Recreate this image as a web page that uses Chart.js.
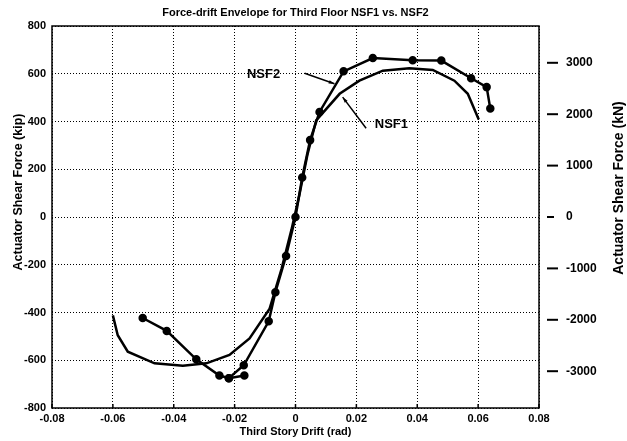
<!DOCTYPE html>
<html>
<head>
<meta charset="utf-8">
<script src="https://cdn.jsdelivr.net/npm/chart.js@4.4.1/dist/chart.umd.min.js"></script>
<style>
  body { margin: 0; background: #fff; }
  #wrap { width: 627px; height: 441px; }
</style>
</head>
<body>
<div id="wrap"><canvas id="chart" width="627" height="441"></canvas></div>
<script>
// values
const driftTicks = [-0.08, -0.06, -0.04, -0.02, 0, 0.02, 0.04, 0.06, 0.08];
const kipTicks = [-800, -600, -400, -200, 0, 200, 400, 600, 800];
const kNTicks = [-3000, -2000, -1000, 0, 1000, 2000, 3000];

const nsf1Drift = [-0.0600, -0.0584, -0.0551, -0.0463, -0.0370, -0.0293, -0.0217, -0.0151, -0.0085, -0.0046, -0.0013,
  0.0013, 0.0039, 0.0068, 0.0145, 0.0210, 0.0287, 0.0374, 0.0451, 0.0522, 0.0566, 0.0602];
const nsf1Force = [-412, -495, -564, -613, -623, -613, -578, -509, -384, -218, -52,
  94, 260, 405, 516, 571, 613, 623, 616, 571, 516, 408];

const nsf2Drift = [-0.0502, -0.0423, -0.0326, -0.0250, -0.0219, -0.0170, -0.0088, -0.0066, -0.0031, 0,
  0.0022, 0.0048, 0.0079, 0.0158, 0.0254, 0.0385, 0.0479, 0.0577, 0.0628, 0.0640];
const nsf2Force = [-423, -477, -596, -664, -675, -621, -437, -315, -163, 0,
  165, 322, 440, 610, 666, 657, 655, 581, 544, 454];
const nsf2TailDrift = [-0.0219, -0.0168];
const nsf2TailForce = [-675, -664];

const kNPerKip = 4.645;

const toPoints = (xs, ys) => xs.map((x, i) => ({ x: x, y: ys[i] }));

const FONT = '"Liberation Sans Narrow", "Liberation Sans", Arial, sans-serif';

const frame = {
  id: 'frame',
  afterDraw(chart) {
    const { ctx, chartArea: a, scales } = chart;
    const dpr = chart.currentDevicePixelRatio;
    ctx.save();
    ctx.strokeStyle = '#000';
    ctx.lineWidth = 1.5;
    ctx.strokeRect(a.left, a.top, a.right - a.left, a.bottom - a.top);

    // short inward ticks along the bottom
    scales.x.ticks.forEach(t => {
      const px = scales.x.getPixelForValue(t.value);
      ctx.beginPath();
      ctx.moveTo(px, a.bottom);
      ctx.lineTo(px, a.bottom - 4);
      ctx.stroke();
    });

    // detached dashes of the kN axis
    const y2 = scales.y2;
    ctx.lineWidth = 2;
    y2.ticks.forEach(t => {
      const py = y2.getPixelForValue(t.value);
      ctx.beginPath();
      ctx.moveTo(a.right + 8, py);
      ctx.lineTo(a.right + (t.value === 0 ? 15 : 19), py);
      ctx.stroke();
    });

    // vertical axis titles
    ctx.fillStyle = '#000';
    ctx.textAlign = 'center';
    ctx.textBaseline = 'middle';
    ctx.font = 'bold 12.5px ' + FONT;
    ctx.translate(19, 192);
    ctx.rotate(-Math.PI / 2);
    ctx.fillText('Actuator Shear Force (kip)', 0, 0);
    ctx.setTransform(dpr, 0, 0, dpr, 0, 0);
    ctx.font = 'bold 14px ' + FONT;
    ctx.translate(619, 188);
    ctx.rotate(-Math.PI / 2);
    ctx.fillText('Actuator Shear Force (kN)', 0, 0);
    ctx.setTransform(dpr, 0, 0, dpr, 0, 0);

    // chart title, centred over the plot
    ctx.font = 'bold 11px ' + FONT;
    ctx.fillText('Force-drift Envelope for Third Floor NSF1 vs. NSF2', (a.left + a.right) / 2, 13);

    // curve labels with pointers
    const x = scales.x, y = scales.y;
    const notes = [
      { text: 'NSF2', tx: -0.0105, ty: 598, from: [0.0030, 602], to: [0.0128, 558] },
      { text: 'NSF1', tx: 0.0315, ty: 389, from: [0.0232, 372], to: [0.0155, 502] }
    ];
    notes.forEach(n => {
      ctx.font = 'bold 13px ' + FONT;
      ctx.fillText(n.text, x.getPixelForValue(n.tx), y.getPixelForValue(n.ty));
      const x1 = x.getPixelForValue(n.from[0]), y1 = y.getPixelForValue(n.from[1]);
      const x2 = x.getPixelForValue(n.to[0]), y2p = y.getPixelForValue(n.to[1]);
      ctx.lineWidth = 1.5;
      ctx.beginPath();
      ctx.moveTo(x1, y1);
      ctx.lineTo(x2, y2p);
      ctx.stroke();
      const ang = Math.atan2(y2p - y1, x2 - x1);
      ctx.beginPath();
      ctx.moveTo(x2, y2p);
      ctx.lineTo(x2 - 6 * Math.cos(ang - 0.3), y2p - 6 * Math.sin(ang - 0.3));
      ctx.lineTo(x2 - 6 * Math.cos(ang + 0.3), y2p - 6 * Math.sin(ang + 0.3));
      ctx.closePath();
      ctx.fill();
    });
    ctx.restore();
  }
};

const lineStyle = {
  showLine: true,
  borderColor: '#000',
  backgroundColor: '#000',
  borderWidth: 2.5,
  tension: 0
};

new Chart(document.getElementById('chart'), {
  type: 'scatter',
  data: {
    datasets: [
      Object.assign({ label: 'NSF1', data: toPoints(nsf1Drift, nsf1Force), pointRadius: 0 }, lineStyle),
      Object.assign({ label: 'NSF2', data: toPoints(nsf2Drift, nsf2Force), pointRadius: 3 }, lineStyle),
      Object.assign({ label: 'NSF2 end', data: toPoints(nsf2TailDrift, nsf2TailForce), pointRadius: 3 }, lineStyle)
    ]
  },
  options: {
    responsive: false,
    animation: false,
    layout: { padding: { top: 26, left: 0, right: 0, bottom: 0 } },
    plugins: { legend: { display: false }, tooltip: { enabled: false } },
    scales: {
      x: {
        type: 'linear',
        min: -0.08,
        max: 0.08,
        afterBuildTicks: s => { s.ticks = driftTicks.map(v => ({ value: v })); },
        afterFit: s => { s.height = 33; },
        grid: { color: '#000', lineWidth: 1, drawTicks: false },
        border: { display: false, dash: [1, 2] },
        ticks: {
          autoSkip: false,
          maxRotation: 0,
          padding: 4,
          color: '#000',
          font: { family: FONT, size: 11, weight: 'bold' },
          callback: v => v === 0 ? '0' : v.toFixed(2)
        },
        title: {
          display: true,
          text: 'Third Story Drift (rad)',
          color: '#000',
          padding: { top: 0, bottom: 2 },
          font: { family: FONT, size: 11, weight: 'bold' }
        }
      },
      y: {
        position: 'left',
        min: -800,
        max: 800,
        afterBuildTicks: s => { s.ticks = kipTicks.map(v => ({ value: v })); },
        afterFit: s => { s.width = 52; },
        grid: { color: '#000', lineWidth: 1, drawTicks: true, tickLength: 6, tickColor: 'rgba(0,0,0,0)' },
        border: { display: false, dash: [1, 2] },
        ticks: {
          padding: 0,
          color: '#000',
          font: { family: FONT, size: 11, weight: 'bold' },
          callback: v => String(v)
        }
      },
      y2: {
        position: 'right',
        min: -800 * kNPerKip,
        max: 800 * kNPerKip,
        afterBuildTicks: s => { s.ticks = kNTicks.map(v => ({ value: v })); },
        afterFit: s => { s.width = 88; },
        grid: { display: true, drawOnChartArea: false, drawTicks: true, tickLength: 27, tickColor: 'rgba(0,0,0,0)' },
        border: { display: false },
        ticks: {
          padding: 0,
          color: '#000',
          font: { family: FONT, size: 12, weight: 'bold' },
          callback: v => String(v)
        }
      }
    }
  },
  plugins: [frame]
});
</script>
</body>
</html>
